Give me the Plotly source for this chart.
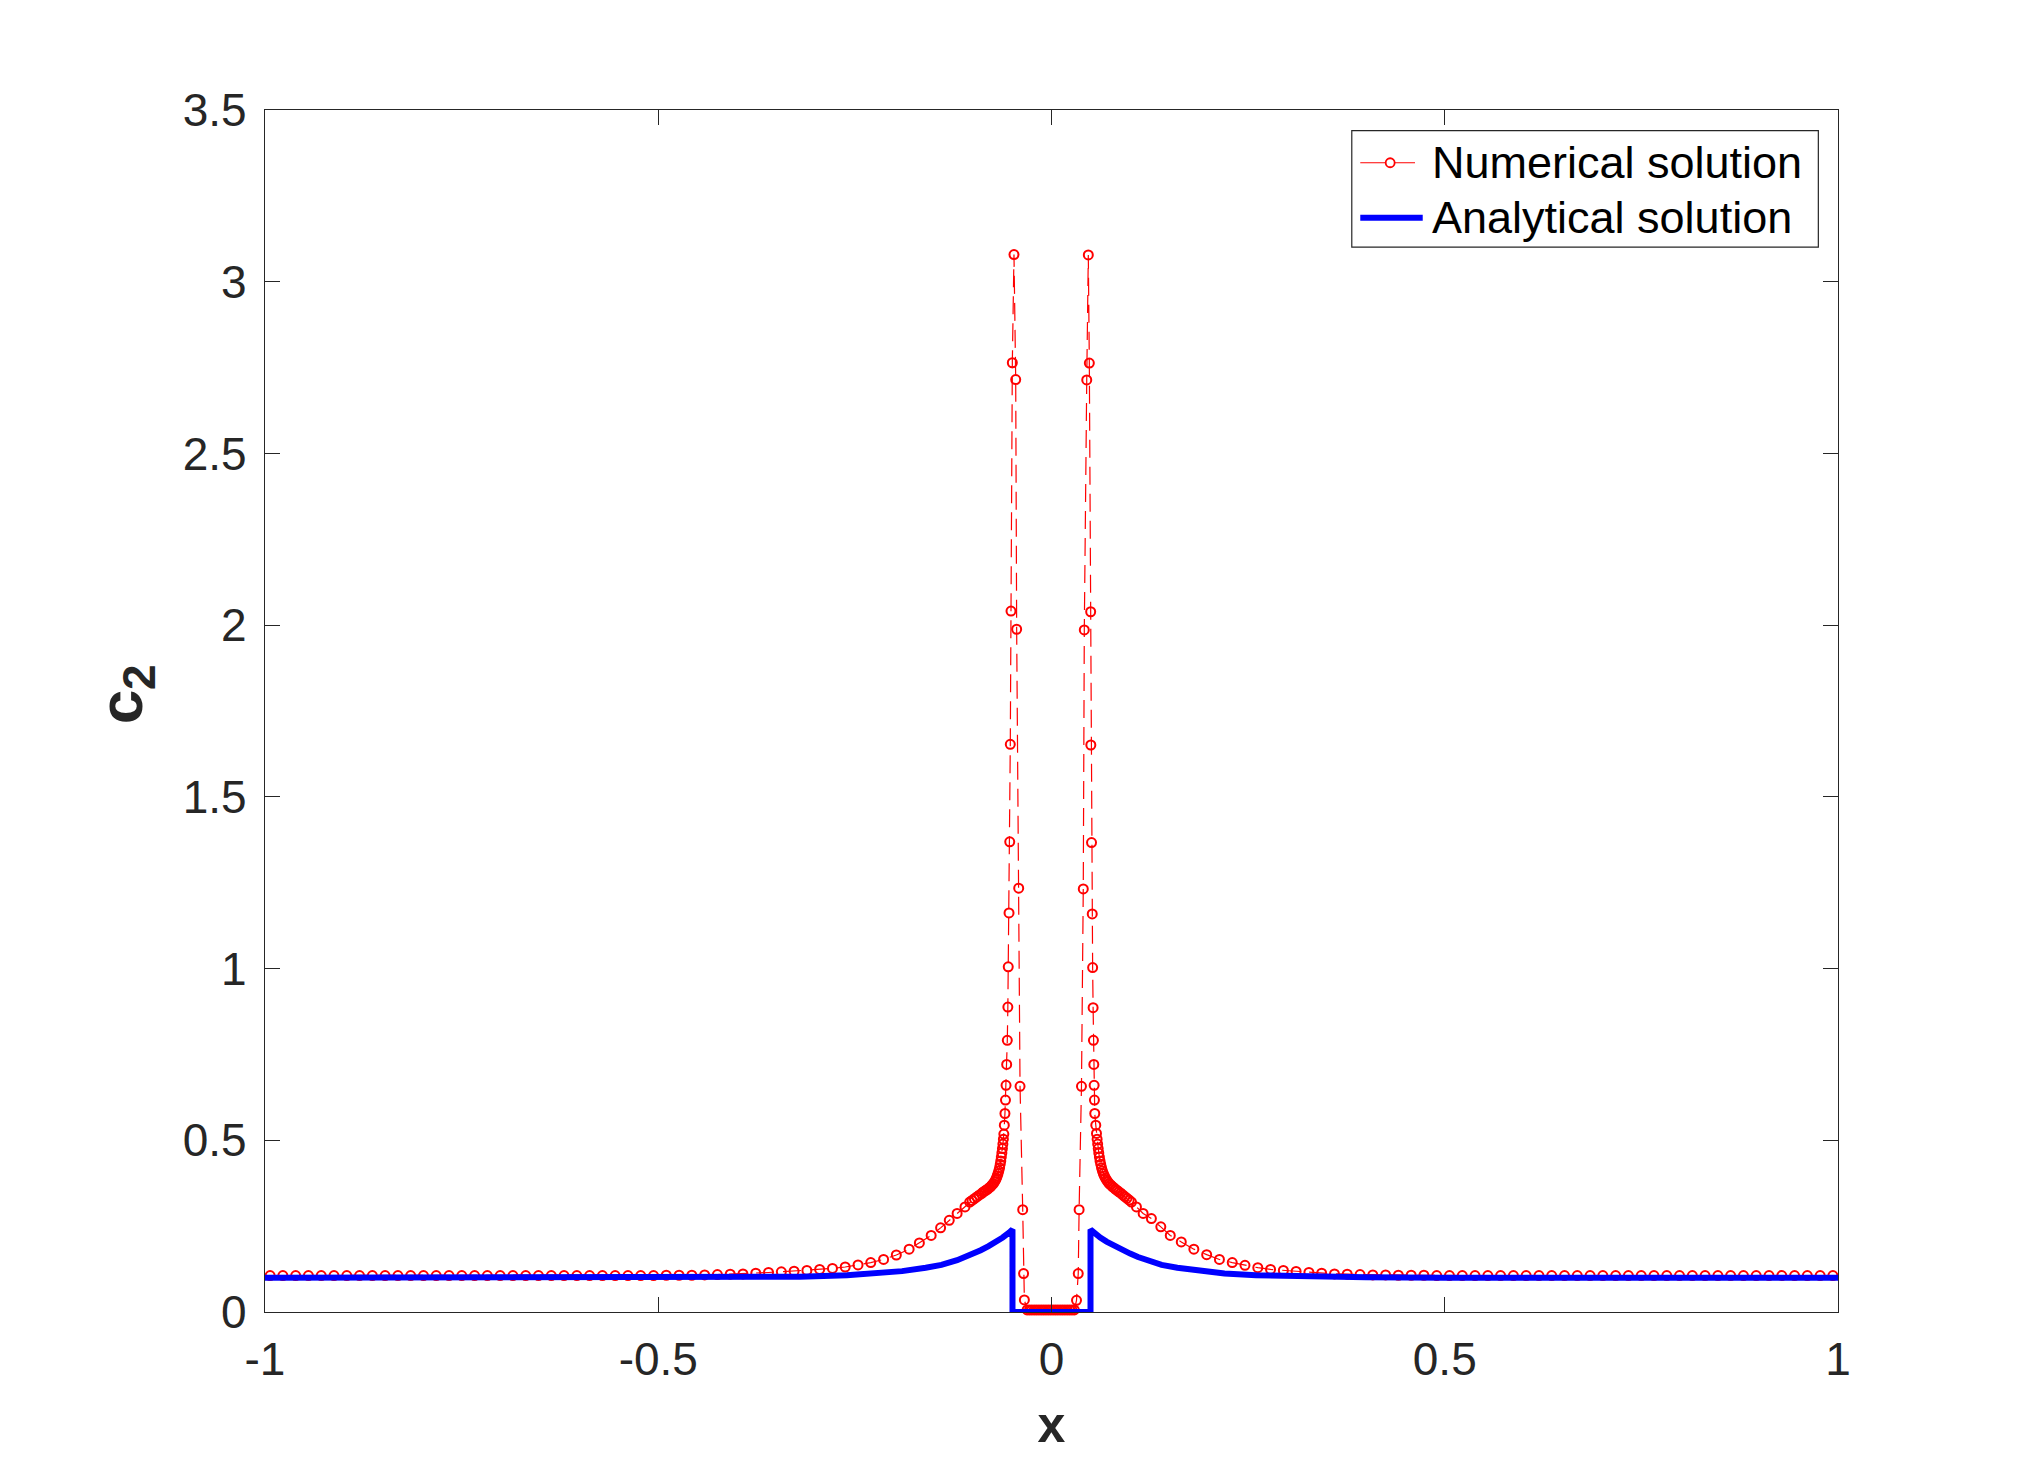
import plotly.graph_objects as go

# ---------------- Numerical solution ----------------
# left far field (quasi-uniform mesh)
left_tail_x = [-0.9935, -0.9773, -0.9610, -0.9448, -0.9285, -0.9123, -0.8960, -0.8798, -0.8635, -0.8473,
               -0.8310, -0.8148, -0.7985, -0.7823, -0.7660, -0.7498, -0.7335, -0.7173, -0.7010, -0.6848,
               -0.6685, -0.6523, -0.6360, -0.6198, -0.6035, -0.5873, -0.5710, -0.5548, -0.5385, -0.5223,
               -0.5060, -0.4898, -0.4735, -0.4573, -0.4410, -0.4248, -0.4085, -0.3923, -0.3760, -0.3598,
               -0.3435, -0.3273, -0.3110, -0.2948, -0.2785, -0.2623, -0.2460, -0.2298, -0.2135, -0.1973,
               -0.1810]
left_tail_y = [0.106, 0.106, 0.106, 0.106, 0.106, 0.106, 0.106, 0.106, 0.106, 0.106,
               0.106, 0.106, 0.106, 0.106, 0.106, 0.106, 0.106, 0.106, 0.106, 0.106,
               0.106, 0.106, 0.106, 0.106, 0.106, 0.106, 0.106, 0.106, 0.106, 0.106,
               0.106, 0.107, 0.107, 0.107, 0.108, 0.109, 0.110, 0.111, 0.113, 0.115,
               0.117, 0.119, 0.121, 0.124, 0.127, 0.131, 0.137, 0.144, 0.153, 0.166,
               0.183]
left_grade_x = [-0.168, -0.153, -0.141, -0.130, -0.120, -0.110]
left_grade_y = [0.201, 0.223, 0.245, 0.267, 0.287, 0.306]
left_band_x = [-0.104, -0.101, -0.098, -0.095, -0.092, -0.089, -0.087, -0.085, -0.083, -0.081,
               -0.079, -0.077, -0.0755, -0.074, -0.0725, -0.071, -0.070, -0.069, -0.068, -0.067,
               -0.066, -0.0652, -0.0645, -0.0638, -0.0631, -0.0624, -0.0618, -0.0612, -0.0606]
left_band_y = [0.320, 0.325, 0.330, 0.335, 0.340, 0.345, 0.349, 0.352, 0.355, 0.358,
               0.362, 0.366, 0.370, 0.374, 0.379, 0.385, 0.390, 0.396, 0.403, 0.411,
               0.420, 0.430, 0.440, 0.451, 0.463, 0.476, 0.489, 0.503, 0.518]
left_peak_x = [-0.0600, -0.0592, -0.0585, -0.0578, -0.0570, -0.0562, -0.0555, -0.0550, -0.0540, -0.0531,
               -0.0524, -0.0515, -0.0498, -0.0477]
left_peak_y = [0.544, 0.578, 0.617, 0.660, 0.721, 0.791, 0.888, 1.005, 1.162, 1.369,
               1.653, 2.041, 2.764, 3.079]
left_inner_x = [-0.0455, -0.0443, -0.0417, -0.0400, -0.0366, -0.0355, -0.0345]
left_inner_y = [2.715, 1.988, 1.234, 0.657, 0.298, 0.112, 0.035]
center_x = [-0.031, -0.028, -0.025, -0.022, -0.019, -0.016, -0.013, -0.010, -0.007, -0.004,
            -0.001, 0.002, 0.005, 0.008, 0.011, 0.014, 0.017, 0.020, 0.023, 0.026, 0.029]
center_y = [0.006, 0.006, 0.006, 0.006, 0.006, 0.006, 0.006, 0.006, 0.006, 0.006,
            0.006, 0.006, 0.006, 0.006, 0.006, 0.006, 0.006, 0.006, 0.006, 0.006, 0.006]
right_inner_x = [0.0318, 0.0340, 0.0351, 0.0381, 0.0404, 0.0417, 0.0448, 0.0468]
right_inner_y = [0.034, 0.112, 0.298, 0.657, 1.232, 1.986, 2.714, 3.078]
right_peak_x = [0.0481, 0.0498, 0.0500, 0.0509, 0.0518, 0.0523, 0.0529, 0.0533, 0.0538, 0.0542,
                0.0546, 0.0550, 0.0563, 0.0572]
right_peak_y = [2.763, 2.039, 1.651, 1.367, 1.159, 1.003, 0.886, 0.791, 0.721, 0.660,
                0.617, 0.578, 0.544, 0.520]
right_band_x = [0.0580, 0.0587, 0.0594, 0.0601, 0.0609, 0.0617, 0.0626, 0.0636, 0.0647, 0.0659,
                0.0672, 0.0686, 0.0701, 0.0717, 0.0734, 0.0752, 0.0771, 0.0791, 0.0812, 0.0834,
                0.0857, 0.0881, 0.0906, 0.0932, 0.0960, 0.0988, 0.1017]
right_band_y = [0.503, 0.489, 0.476, 0.463, 0.451, 0.440, 0.430, 0.420, 0.411, 0.403,
                0.396, 0.390, 0.384, 0.379, 0.374, 0.370, 0.366, 0.362, 0.358, 0.354,
                0.350, 0.346, 0.341, 0.336, 0.331, 0.326, 0.320]
right_grade_x = [0.108, 0.1165, 0.127, 0.139, 0.151, 0.165]
right_grade_y = [0.306, 0.287, 0.272, 0.248, 0.223, 0.204]
right_tail_x = [0.1810, 0.1973, 0.2135, 0.2298, 0.2460, 0.2623, 0.2785, 0.2948, 0.3110, 0.3273,
                0.3435, 0.3598, 0.3760, 0.3923, 0.4085, 0.4248, 0.4410, 0.4573, 0.4735, 0.4898,
                0.5060, 0.5223, 0.5385, 0.5548, 0.5710, 0.5873, 0.6035, 0.6198, 0.6360, 0.6523,
                0.6685, 0.6848, 0.7010, 0.7173, 0.7335, 0.7498, 0.7660, 0.7823, 0.7985, 0.8148,
                0.8310, 0.8473, 0.8635, 0.8798, 0.8960, 0.9123, 0.9285, 0.9448, 0.9610, 0.9773,
                0.9935]
right_tail_y = [0.183, 0.167, 0.153, 0.144, 0.136, 0.129, 0.124, 0.121, 0.118, 0.115,
                0.113, 0.111, 0.110, 0.109, 0.108, 0.108, 0.107, 0.107, 0.107, 0.106,
                0.106, 0.106, 0.106, 0.106, 0.106, 0.106, 0.106, 0.106, 0.106, 0.106,
                0.106, 0.106, 0.106, 0.106, 0.106, 0.106, 0.106, 0.106, 0.106, 0.106,
                0.106, 0.106, 0.106, 0.106, 0.106, 0.106, 0.106, 0.106, 0.106, 0.106,
                0.106]

num_x = (left_tail_x + left_grade_x + left_band_x + left_peak_x + left_inner_x + center_x
         + right_inner_x + right_peak_x + right_band_x + right_grade_x + right_tail_x)
num_y = (left_tail_y + left_grade_y + left_band_y + left_peak_y + left_inner_y + center_y
         + right_inner_y + right_peak_y + right_band_y + right_grade_y + right_tail_y)

# ---------------- Analytical solution ----------------
ana_x = [-1.0, -0.8, -0.6, -0.5, -0.4, -0.32, -0.26, -0.22, -0.19, -0.16, -0.14, -0.12, -0.11, -0.10,
         -0.09, -0.08, -0.07, -0.062, -0.054, -0.0496, -0.0496, 0.0496, 0.0496, 0.054, 0.062, 0.07,
         0.08, 0.09, 0.10, 0.11, 0.12, 0.14, 0.16, 0.19, 0.22, 0.26, 0.32, 0.4, 0.5, 0.6, 0.8, 1.0]
ana_y = [0.100, 0.100, 0.100, 0.100, 0.101, 0.103, 0.107, 0.112, 0.119, 0.129, 0.137, 0.151, 0.160, 0.170,
         0.180, 0.192, 0.205, 0.217, 0.231, 0.240, 0.0, 0.0, 0.240, 0.231, 0.217, 0.205,
         0.192, 0.180, 0.170, 0.160, 0.151, 0.137, 0.129, 0.119, 0.112, 0.107, 0.103, 0.101, 0.100, 0.100, 0.100, 0.100]

x_ticks = [-1, -0.5, 0, 0.5, 1]
x_tick_text = ["-1", "-0.5", "0", "0.5", "1"]
y_ticks = [0, 0.5, 1, 1.5, 2, 2.5, 3, 3.5]
y_tick_text = ["0", "0.5", "1", "1.5", "2", "2.5", "3", "3.5"]
legend_names = ["Numerical solution", "Analytical solution"]

FONT = "Liberation Sans, Arial, Helvetica, sans-serif"
AX = "#262626"
RED = "#ff0000"
BLUE = "#0000ff"

fig = go.Figure()
fig.add_trace(go.Scatter(
    x=num_x, y=num_y, mode="lines+markers", name=legend_names[0],
    line=dict(color=RED, width=1.2, dash="18px,9px"),
    marker=dict(symbol="circle-open", size=9, color=RED, line=dict(width=2, color=RED)),
    cliponaxis=False, showlegend=False,
))
fig.add_trace(go.Scatter(
    x=ana_x, y=ana_y, mode="lines", name=legend_names[1],
    line=dict(color=BLUE, width=6),
    cliponaxis=False, showlegend=False,
))

# ---- legend box drawn in paper coordinates (MATLAB-style sample lengths) ----
LX0, LX1, LY0, LY1 = 0.6909, 0.9875, 0.8860, 0.9828
ROW = [0.9561, 0.9103]
shapes = [
    dict(type="rect", xref="paper", yref="paper", x0=LX0, x1=LX1, y0=LY0, y1=LY1,
         line=dict(color=AX, width=1.2), fillcolor="white", layer="above"),
    dict(type="line", xref="paper", yref="paper", x0=0.6963, x1=0.7311, y0=ROW[0], y1=ROW[0],
         line=dict(color=RED, width=1.2), layer="above"),
    dict(type="circle", xref="paper", yref="paper", xsizemode="pixel", ysizemode="pixel",
         xanchor=0.7153, yanchor=ROW[0], x0=-4.5, x1=4.5, y0=-4.5, y1=4.5,
         line=dict(color=RED, width=1.8), fillcolor="white", layer="above"),
    dict(type="line", xref="paper", yref="paper", x0=0.6963, x1=0.7360, y0=ROW[1], y1=ROW[1],
         line=dict(color=BLUE, width=6), layer="above"),
]
annotations = [
    dict(text=legend_names[i], xref="paper", yref="paper", x=0.7407, y=ROW[i],
         xanchor="left", yanchor="middle", showarrow=False,
         font=dict(family=FONT, size=45, color="black"))
    for i in range(2)
]
annotations.append(dict(
    text="<b>c<sub><span style='font-size:46px'>2</span></sub></b>", xref="paper", yref="paper",
    x=-0.0625, y=0.514, xanchor="right", yanchor="middle", textangle=-90, showarrow=False,
    font=dict(family=FONT, size=62, color=AX)))

fig.update_layout(
    width=2034, height=1475,
    margin=dict(l=265, r=196, t=110, b=163),
    paper_bgcolor="white", plot_bgcolor="white",
    font=dict(family=FONT, size=45, color=AX),
    showlegend=False,
    shapes=shapes, annotations=annotations,
    xaxis=dict(
        range=[-1, 1], tickvals=x_ticks, ticktext=x_tick_text,
        showline=True, linecolor=AX, linewidth=1.3, mirror="ticks",
        ticks="inside", ticklen=15, tickwidth=1.3, tickcolor=AX,
        showgrid=False, zeroline=False, ticklabelstandoff=7,
        tickfont=dict(family=FONT, size=46, color=AX),
        title=dict(text="<b>x</b>", font=dict(family=FONT, size=50, color=AX), standoff=22),
    ),
    yaxis=dict(
        range=[0, 3.5], tickvals=y_ticks, ticktext=y_tick_text,
        showline=True, linecolor=AX, linewidth=1.3, mirror="ticks",
        ticks="inside", ticklen=15, tickwidth=1.3, tickcolor=AX,
        showgrid=False, zeroline=False, ticklabelstandoff=8,
        tickfont=dict(family=FONT, size=46, color=AX),
    ),
)

fig.write_html("out.html")
